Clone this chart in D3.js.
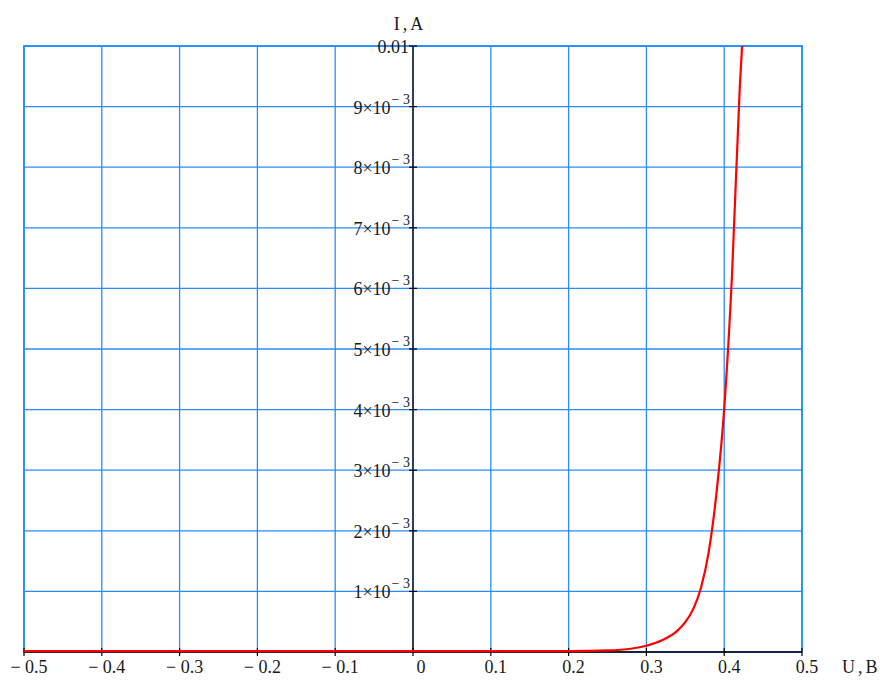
<!DOCTYPE html>
<html><head><meta charset="utf-8">
<script src="https://cdn.jsdelivr.net/npm/d3@7"></script>
<style>body{margin:0;background:#fff}svg{display:block}text{font-family:"Liberation Serif","Times New Roman",serif;fill:#1a1a1a}</style>
</head><body>
<svg id="c" width="880" height="681"></svg>
<script>
// Voltage (V) and current (A)
const voltage = [-0.5, -0.4, -0.3, -0.2, -0.1, 0, 0.1, 0.2, 0.25, 0.28, 0.30, 0.32, 0.34, 0.35, 0.36, 0.37, 0.38, 0.39, 0.40, 0.41, 0.42, 0.4235];
const current = [0, 0, 0, 0, 0, 0, 0, 0.000002, 0.000012, 0.00004, 0.00009, 0.00018, 0.00034, 0.00048, 0.00069, 0.00104, 0.00163, 0.0026, 0.0040, 0.0062, 0.0093, 0.0101];
const xTicks = [-0.5, -0.4, -0.3, -0.2, -0.1, 0, 0.1, 0.2, 0.3, 0.4, 0.5];
const xTickLabels = ["\u2212 0.5", "\u2212 0.4", "\u2212 0.3", "\u2212 0.2", "\u2212 0.1", "0", "0.1", "0.2", "0.3", "0.4", "0.5"];
const yTicks = [0.001, 0.002, 0.003, 0.004, 0.005, 0.006, 0.007, 0.008, 0.009, 0.01];
const yTickMantissa = ["1", "2", "3", "4", "5", "6", "7", "8", "9", null];
const yTopLabel = "0.01";
const xTitle = "U,B";
const yTitle = "I,A";

const svg = d3.select("#c");
const L = 24, R = 802, T = 46, B = 652;
const x = d3.scaleLinear().domain([-0.5, 0.5]).range([L, R]);
const y = d3.scaleLinear().domain([0, 0.01]).range([B, T]);
const blue = "#2a8cff";

// grid
svg.append("g").selectAll("line").data(xTicks).join("line")
  .attr("x1", d => x(d)).attr("x2", d => x(d)).attr("y1", T).attr("y2", B)
  .attr("stroke", blue).attr("stroke-width", 1.3);
svg.append("g").selectAll("line").data(yTicks).join("line")
  .attr("x1", L).attr("x2", R).attr("y1", d => y(d)).attr("y2", d => y(d))
  .attr("stroke", blue).attr("stroke-width", 1.3);
// border
svg.append("rect").attr("x", L).attr("y", T).attr("width", R - L).attr("height", B - T)
  .attr("fill", "none").attr("stroke", blue).attr("stroke-width", 1.8);

// axes lines
svg.append("line").attr("x1", x(0)).attr("x2", x(0)).attr("y1", T).attr("y2", B)
  .attr("stroke", "#000").attr("stroke-width", 1.3);
svg.append("line").attr("x1", L).attr("x2", R).attr("y1", B).attr("y2", B)
  .attr("stroke", "#000").attr("stroke-width", 1.3);
// ticks
svg.append("g").selectAll("line").data(xTicks).join("line")
  .attr("x1", d => x(d)).attr("x2", d => x(d)).attr("y1", B - 4).attr("y2", B + 4)
  .attr("stroke", "#000").attr("stroke-width", 1.2);
svg.append("g").selectAll("line").data(yTicks).join("line")
  .attr("x1", x(0) - 4).attr("x2", x(0) + 4).attr("y1", d => y(d)).attr("y2", d => y(d))
  .attr("stroke", "#000").attr("stroke-width", 1.2);

// curve
svg.append("defs").append("clipPath").attr("id", "clip").append("rect")
  .attr("x", L).attr("y", T).attr("width", R - L).attr("height", B - T + 3);
const pts = voltage.map((v, i) => [v, current[i]]);
const line = d3.line().x(d => x(d[0])).y(d => y(d[1]) - 0.8).curve(d3.curveMonotoneX);
svg.append("path").datum(pts).attr("d", line).attr("clip-path", "url(#clip)")
  .attr("fill", "none").attr("stroke", "#ff0000").attr("stroke-width", 2.2);

// x tick labels
svg.append("g").selectAll("text").data(xTicks).join("text")
  .attr("x", (d, i) => x(d) + (d === 0 ? 8 : 5)).attr("y", 673)
  .attr("text-anchor", "middle").attr("font-size", 18)
  .text((d, i) => xTickLabels[i]);

// y tick labels
const yl = svg.append("g").selectAll("text").data(yTicks).join("text")
  .attr("x", 410).attr("y", d => y(d) + 7)
  .attr("text-anchor", "end").attr("font-size", 18);
yl.each(function(d, i) {
  const t = d3.select(this);
  if (yTickMantissa[i] === null) {
    t.text(yTopLabel).attr("x", 409);
  } else {
    t.append("tspan").text(yTickMantissa[i] + "\u00d710");
    t.append("tspan").attr("font-size", 14).attr("dy", -10).attr("dx", 1).text("\u2212 3");
  }
});

// titles
svg.append("text").attr("x", 410).attr("y", 30).attr("text-anchor", "middle")
  .attr("font-size", 18).attr("letter-spacing", 3).text(yTitle);
svg.append("text").attr("x", 842).attr("y", 673).attr("font-size", 18)
  .attr("letter-spacing", 3).text(xTitle);
</script>
</body></html>
